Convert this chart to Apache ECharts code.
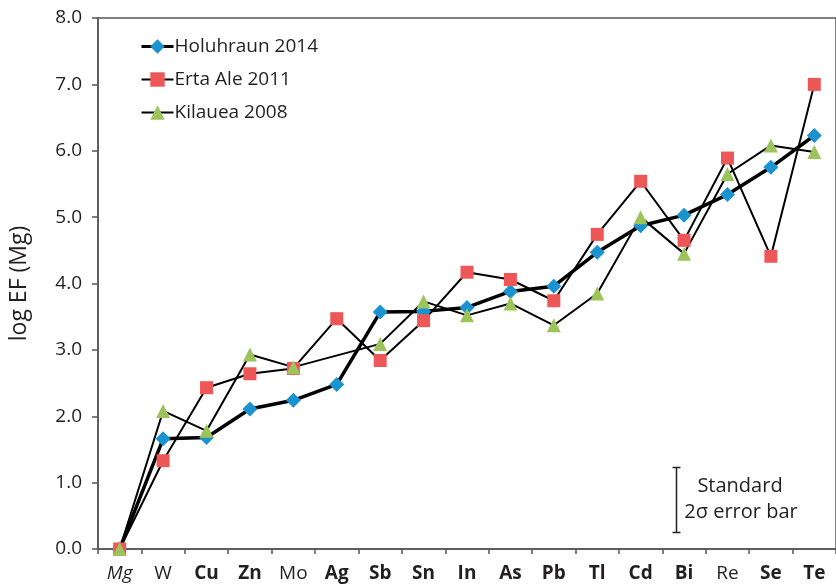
<!DOCTYPE html>
<html>
<head>
<meta charset="utf-8">
<script src="https://cdn.jsdelivr.net/npm/echarts@6/dist/echarts.min.js"></script>
<style>
  html, body { margin: 0; padding: 0; background: #fff; }
  #chart { width: 836px; height: 585px; }
</style>
</head>
<body>
<div id="chart"></div>
<script>
// Elements, ordered by increasing enrichment factor relative to Mg
const elements = ['Mg', 'W', 'Cu', 'Zn', 'Mo', 'Ag', 'Sb', 'Sn', 'In', 'As', 'Pb', 'Tl', 'Cd', 'Bi', 'Re', 'Se', 'Te'];

// log EF (Mg) per volcano; '-' marks an element that was not measured
const holuhraun2014 = [0, 1.66, 1.68, 2.11, 2.24, 2.48, 3.57, 3.58, 3.64, 3.88, 3.96, 4.47, 4.87, 5.03, 5.34, 5.75, 6.23];
const ertaAle2011   = [0, 1.33, 2.43, 2.64, 2.72, 3.47, 2.84, 3.44, 4.17, 4.06, 3.74, 4.74, 5.54, 4.65, 5.89, 4.41, 7.00];
const kilauea2008   = [0, 2.08, 1.78, 2.93, 2.74, '-', 3.09, 3.73, 3.52, 3.70, 3.37, 3.85, 5.00, 4.45, 5.65, 6.08, 5.98];

const yTicks = [0, 1, 2, 3, 4, 5, 6, 7, 8];

// Label weights for the element names
const italicElements = ['Mg'];
const plainElements = ['W', 'Mo', 'Re'];

const FONT = '"Open Sans", "Noto Sans", sans-serif';
const TEXT = '#231f20';
const AXIS = '#555555';

const chart = echarts.init(document.getElementById('chart'), null, { renderer: 'canvas' });

function lineSeries(name, data, symbol, color, width, size) {
  return {
    name: name,
    type: 'line',
    data: data,
    connectNulls: true,
    symbol: symbol,
    symbolSize: size,
    showAllSymbol: true,
    lineStyle: { color: '#000', width: width },
    itemStyle: { color: color, borderWidth: 0 },
    emphasis: { disabled: true },
    animation: false
  };
}

chart.setOption({
  backgroundColor: '#fff',
  animation: false,
  grid: {
    left: 94.5, top: 18, bottom: 36, width: 747,
    show: true, borderColor: AXIS, borderWidth: 1.5, backgroundColor: 'transparent'
  },
  legend: {
    orient: 'vertical',
    left: 135, top: 32,
    itemWidth: 32, itemHeight: 18, itemGap: 14,
    textStyle: { fontFamily: FONT, fontSize: 19, color: TEXT, padding: [0, 0, 0, -4] },
    data: [
      { name: 'Holuhraun 2014', lineStyle: { width: 3 } },
      { name: 'Erta Ale 2011', lineStyle: { width: 2.2 } },
      { name: 'Kilauea 2008', lineStyle: { width: 2.2 } }
    ]
  },
  xAxis: {
    type: 'category',
    data: elements,
    boundaryGap: true,
    axisLine: { lineStyle: { color: AXIS, width: 1.5 } },
    axisTick: { show: true, inside: false, length: 5, lineStyle: { color: AXIS, width: 1.5 } },
    axisLabel: {
      margin: 15,
      interval: 0,
      formatter: function (v) {
        if (italicElements.indexOf(v) >= 0) return '{i|' + v + '}';
        if (plainElements.indexOf(v) >= 0) return '{n|' + v + '}';
        return '{b|' + v + '}';
      },
      rich: {
        i: { fontFamily: FONT, fontSize: 19, fontStyle: 'italic', color: TEXT },
        n: { fontFamily: FONT, fontSize: 19, color: TEXT },
        b: { fontFamily: FONT, fontSize: 19, fontWeight: 'bold', color: TEXT }
      }
    }
  },
  yAxis: {
    type: 'value',
    min: yTicks[0], max: yTicks[yTicks.length - 1], interval: 1,
    name: 'log EF (Mg)',
    nameLocation: 'middle',
    nameRotate: 90,
    nameGap: 67,
    nameTextStyle: { fontFamily: FONT, fontSize: 23, color: TEXT },
    axisLine: { show: true, lineStyle: { color: AXIS, width: 1.5 } },
    axisTick: { show: true, inside: false, length: 6, lineStyle: { color: AXIS, width: 1.5 } },
    splitLine: { show: false },
    axisLabel: {
      margin: 16,
      fontFamily: FONT, fontSize: 19, color: TEXT,
      formatter: function (v) { return v.toFixed(1); }
    }
  },
  series: [
    lineSeries('Holuhraun 2014', holuhraun2014, 'diamond', '#1b93d1', 3.5, 15),
    lineSeries('Erta Ale 2011', ertaAle2011, 'rect', '#ee5757', 2, 13),
    lineSeries('Kilauea 2008', kilauea2008, 'triangle', '#9dc35b', 2, 14)
  ],
  graphic: [
    {
      type: 'group', left: 670, top: 465, silent: true,
      children: [
        { type: 'line', shape: { x1: 4, y1: 0, x2: 4, y2: 65 }, style: { stroke: '#231f20', lineWidth: 1.5 } },
        { type: 'line', shape: { x1: 0, y1: 0, x2: 8, y2: 0 }, style: { stroke: '#231f20', lineWidth: 1.5 } },
        { type: 'line', shape: { x1: 0, y1: 65, x2: 8, y2: 65 }, style: { stroke: '#231f20', lineWidth: 1.5 } }
      ]
    },
    {
      type: 'text', silent: true,
      style: { x: 740, y: 486, text: 'Standard', font: '20px ' + FONT, fill: TEXT, textAlign: 'center', textVerticalAlign: 'middle' }
    },
    {
      type: 'text', silent: true,
      style: { x: 741, y: 512, text: '2σ error bar', font: '20px ' + FONT, fill: TEXT, textAlign: 'center', textVerticalAlign: 'middle' }
    }
  ]
});
</script>
</body>
</html>
